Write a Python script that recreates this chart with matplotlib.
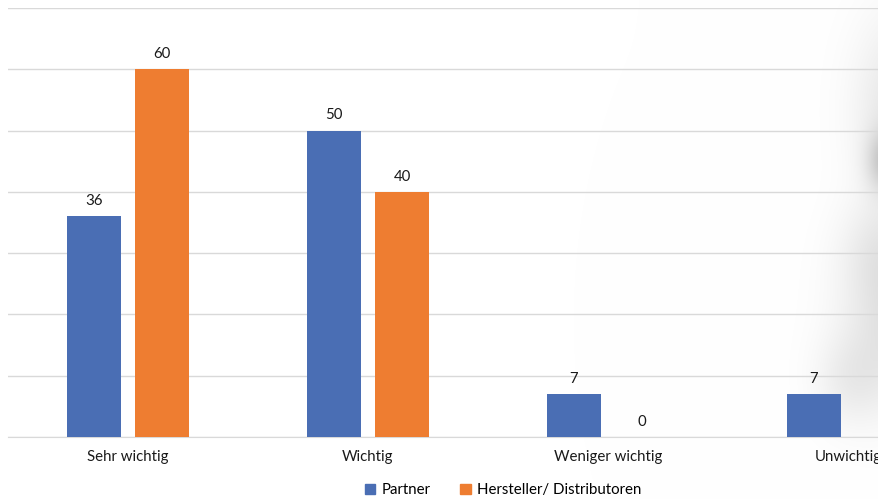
import numpy as np
import matplotlib.pyplot as plt
from matplotlib.patches import Patch

# Bewertung: Partner vs. Hersteller/Distributoren
kategorien = ['Sehr wichtig', 'Wichtig', 'Weniger wichtig', 'Unwichtig']
partner = [36, 50, 7, 7]
hersteller = [60, 40, 0, 0]
serien = ['Partner', 'Hersteller/ Distributoren']

blau = '#4A6EB4'
orange = '#EE7D31'
gitter = '#D9D9D9'

plt.rcParams['font.family'] = ['Lato', 'DejaVu Sans']

W, H = 879, 499
fig = plt.figure(figsize=(W / 100, H / 100), dpi=100)

# heller, unscharfer Grauschleier am rechten Rand
bg = fig.add_axes([0, 0, 1, 1], zorder=-1)
bg.set_axis_off()
yy, xx = np.mgrid[0:H, 0:W]
haze = np.zeros((H, W))
for cx, cy, sx, sy, a in [(900, 110, 45, 90, 0.10), (885, 160, 18, 30, 0.18),
                          (900, 320, 55, 80, 0.12), (850, 380, 35, 45, 0.06),
                          (880, 250, 40, 50, 0.06)]:
    haze += a * np.exp(-(((xx - cx) / sx) ** 2 + ((yy - cy) / sy) ** 2))
haze = np.clip(haze, 0, 0.3)
img = np.ones((H, W, 3)) * (1 - haze[..., None])
bg.imshow(img, extent=[0, W, H, 0], aspect='auto')
bg.set_xlim(0, W)
bg.set_ylim(H, 0)

# Achse reicht über den rechten Bildrand hinaus
left = 8 / W
width = 960 / W
bottom = (H - 437) / H
height = (437 - 8) / H
ax = fig.add_axes([left, bottom, width, height])
ax.patch.set_alpha(0)

x = np.arange(len(kategorien))
bw = 0.225
off = 0.1417
b1 = ax.bar(x - off, partner, bw, color=blau, zorder=3)
b2 = ax.bar(x + off, hersteller, bw, color=orange, zorder=3)

for bars, vals in [(b1, partner), (b2, hersteller)]:
    for rect, v in zip(bars, vals):
        ax.annotate(str(v), (rect.get_x() + rect.get_width() / 2, v),
                    xytext=(0, 6), textcoords='offset points',
                    ha='center', va='bottom', fontsize=10.8, color='#1a1a1a')

ax.set_xlim(-0.5, len(kategorien) - 0.5)
ax.set_ylim(0, 70)
ax.set_yticks(np.arange(0, 71, 10))
ax.yaxis.grid(True, color=gitter, lw=1, zorder=0)
ax.tick_params(axis='y', left=False, labelleft=False)
ax.tick_params(axis='x', length=0, pad=9, labelsize=10.8, labelcolor='#1a1a1a')
ax.set_xticks(x)
ax.set_xticklabels(kategorien)
for s in ['top', 'right', 'left']:
    ax.spines[s].set_visible(False)
ax.spines['bottom'].set_color(gitter)

handles = [Patch(color=blau, label=serien[0]), Patch(color=orange, label=serien[1])]
fig.legend(handles=handles, loc='center', bbox_to_anchor=(503 / W, 1 - 490 / H),
           ncol=2, frameon=False, fontsize=10.8, handlelength=0.7, handleheight=0.7,
           handletextpad=0.4, columnspacing=2.0)

fig.savefig('out.png', dpi=100)
